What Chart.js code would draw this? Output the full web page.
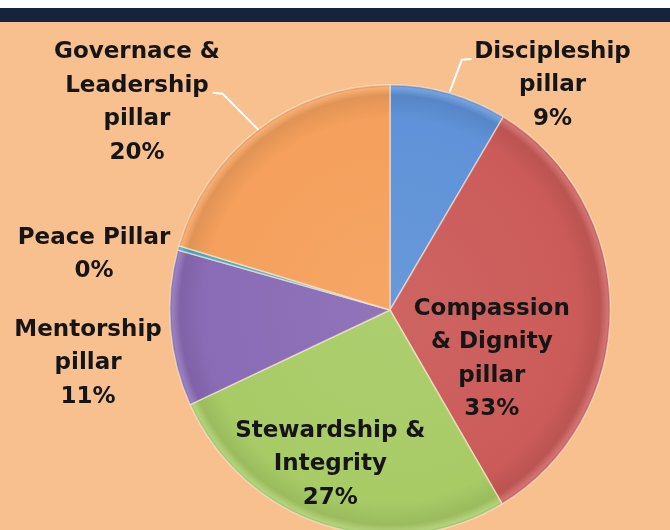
<!DOCTYPE html>
<html>
<head>
<meta charset="utf-8">
<script src="https://cdn.jsdelivr.net/npm/chart.js@4/dist/chart.umd.min.js"></script>
<style>
  html, body { margin: 0; padding: 0; width: 670px; height: 530px; overflow: hidden; background: #F9C08F; }
  #topWhite { position: absolute; left: 0; top: 0; width: 670px; height: 8px; background: #ffffff; }
  #topBar { position: absolute; left: 0; top: 8px; width: 670px; height: 14px; background: #14243F; }
  #wrap { position: absolute; left: 0; top: 0; width: 670px; height: 540px; }
</style>
</head>
<body>
<div id="topWhite"></div>
<div id="topBar"></div>
<div id="wrap"><canvas id="c" width="670" height="540"></canvas></div>
<script>
// ---- data ----
const categories = ["Discipleship pillar", "Compassion & Dignity pillar", "Stewardship & Integrity", "Mentorship pillar", "Peace Pillar", "Governace & Leadership pillar"];
const labelLines = [["Discipleship", "pillar"], ["Compassion", "& Dignity", "pillar"], ["Stewardship &", "Integrity"], ["Mentorship", "pillar"], ["Peace Pillar"], ["Governace &", "Leadership", "pillar"]];
const values = [8.6, 32.9, 26.6, 11.2, 0.3, 20.4];
const colors = ["#5F92D8", "#CB5B59", "#A8CB66", "#8A6BB6", "#4BACC6", "#F5A05C"];

// ---- label placement (fractions of the radius, relative to pie centre) ----
const labelPlacement = [
  { dx: 0.738, dy: -1.020 },
  { dx: 0.462, dy: 0.223 },
  { dx: -0.271, dy: 0.700 },
  { dx: -1.371, dy: 0.241 },
  { dx: -1.344, dy: -0.251 },
  { dx: -1.149, dy: -0.943 }
];
const leaders = [
  [[0.371, -1.140], [0.326, -1.136], [0.271, -0.990]],
  null, null, null, null,
  [[-0.805, -0.986], [-0.760, -0.982], [-0.597, -0.818]]
];
const verticalStretch = 1.0226;

function shade(hex, amt) {
  const n = parseInt(hex.slice(1), 16);
  let r = (n >> 16) & 255, g = (n >> 8) & 255, b = n & 255;
  const f = v => Math.max(0, Math.min(255, Math.round(amt >= 0 ? v + (255 - v) * amt : v * (1 + amt))));
  return `rgb(${f(r)},${f(g)},${f(b)})`;
}

const stretchPlugin = {
  id: 'stretch',
  beforeDatasetsDraw(chart) {
    const a = chart.getDatasetMeta(0).data[0];
    const ctx = chart.ctx;
    ctx.save();
    ctx.translate(a.x, a.y);
    ctx.scale(1, verticalStretch);
    ctx.translate(-a.x, -a.y);
  },
  afterDatasetsDraw(chart) {
    chart.ctx.restore();
  }
};

const labelPlugin = {
  id: 'pieLabels',
  afterDraw(chart) {
    const meta = chart.getDatasetMeta(0);
    const arc0 = meta.data[0];
    const cx = arc0.x, cy = arc0.y, r = arc0.outerRadius;
    const ctx = chart.ctx;
    const total = values.reduce((a, b) => a + b, 0);
    ctx.save();
    ctx.strokeStyle = '#ffffff';
    ctx.lineWidth = 2;
    leaders.forEach(pts => {
      if (!pts) return;
      ctx.beginPath();
      pts.forEach((p, k) => {
        const x = cx + p[0] * r, y = cy + p[1] * r;
        if (k === 0) ctx.moveTo(x, y); else ctx.lineTo(x, y);
      });
      ctx.stroke();
    });
    ctx.font = 'bold 23px "DejaVu Sans"';
    ctx.fillStyle = '#151515';
    ctx.textAlign = 'center';
    ctx.textBaseline = 'middle';
    const lh = 33.5;
    values.forEach((v, i) => {
      const lines = labelLines[i].concat([Math.round(v / total * 100) + '%']);
      const px = cx + labelPlacement[i].dx * r;
      const py = cy + labelPlacement[i].dy * r;
      const y0 = py - (lines.length - 1) * lh / 2;
      lines.forEach((t, k) => ctx.fillText(t, px, y0 + k * lh));
    });
    ctx.restore();
  }
};

new Chart(document.getElementById('c'), {
  type: 'pie',
  data: {
    labels: categories,
    datasets: [{
      data: values,
      backgroundColor: (c) => {
        const chart = c.chart;
        const area = chart.chartArea;
        const base = colors[c.dataIndex];
        if (!area) return base;
        const cx = (area.left + area.right) / 2, cy = (area.top + area.bottom) / 2;
        const r = Math.min(area.right - area.left, area.bottom - area.top) / 2;
        const g = chart.ctx.createRadialGradient(cx, cy, 0, cx, cy, r);
        g.addColorStop(0, shade(base, 0.06));
        g.addColorStop(0.85, base);
        g.addColorStop(0.95, shade(base, -0.08));
        g.addColorStop(0.985, shade(base, 0.15));
        g.addColorStop(1, shade(base, -0.15));
        return g;
      },
      borderColor: 'rgba(255,240,220,0.55)',
      borderWidth: 1.5
    }]
  },
  options: {
    responsive: false,
    animation: false,
    layout: { padding: { left: 169, right: 59, top: 89, bottom: 9 } },
    plugins: { legend: { display: false }, tooltip: { enabled: false } }
  },
  plugins: [stretchPlugin, labelPlugin]
});
</script>
</body>
</html>
